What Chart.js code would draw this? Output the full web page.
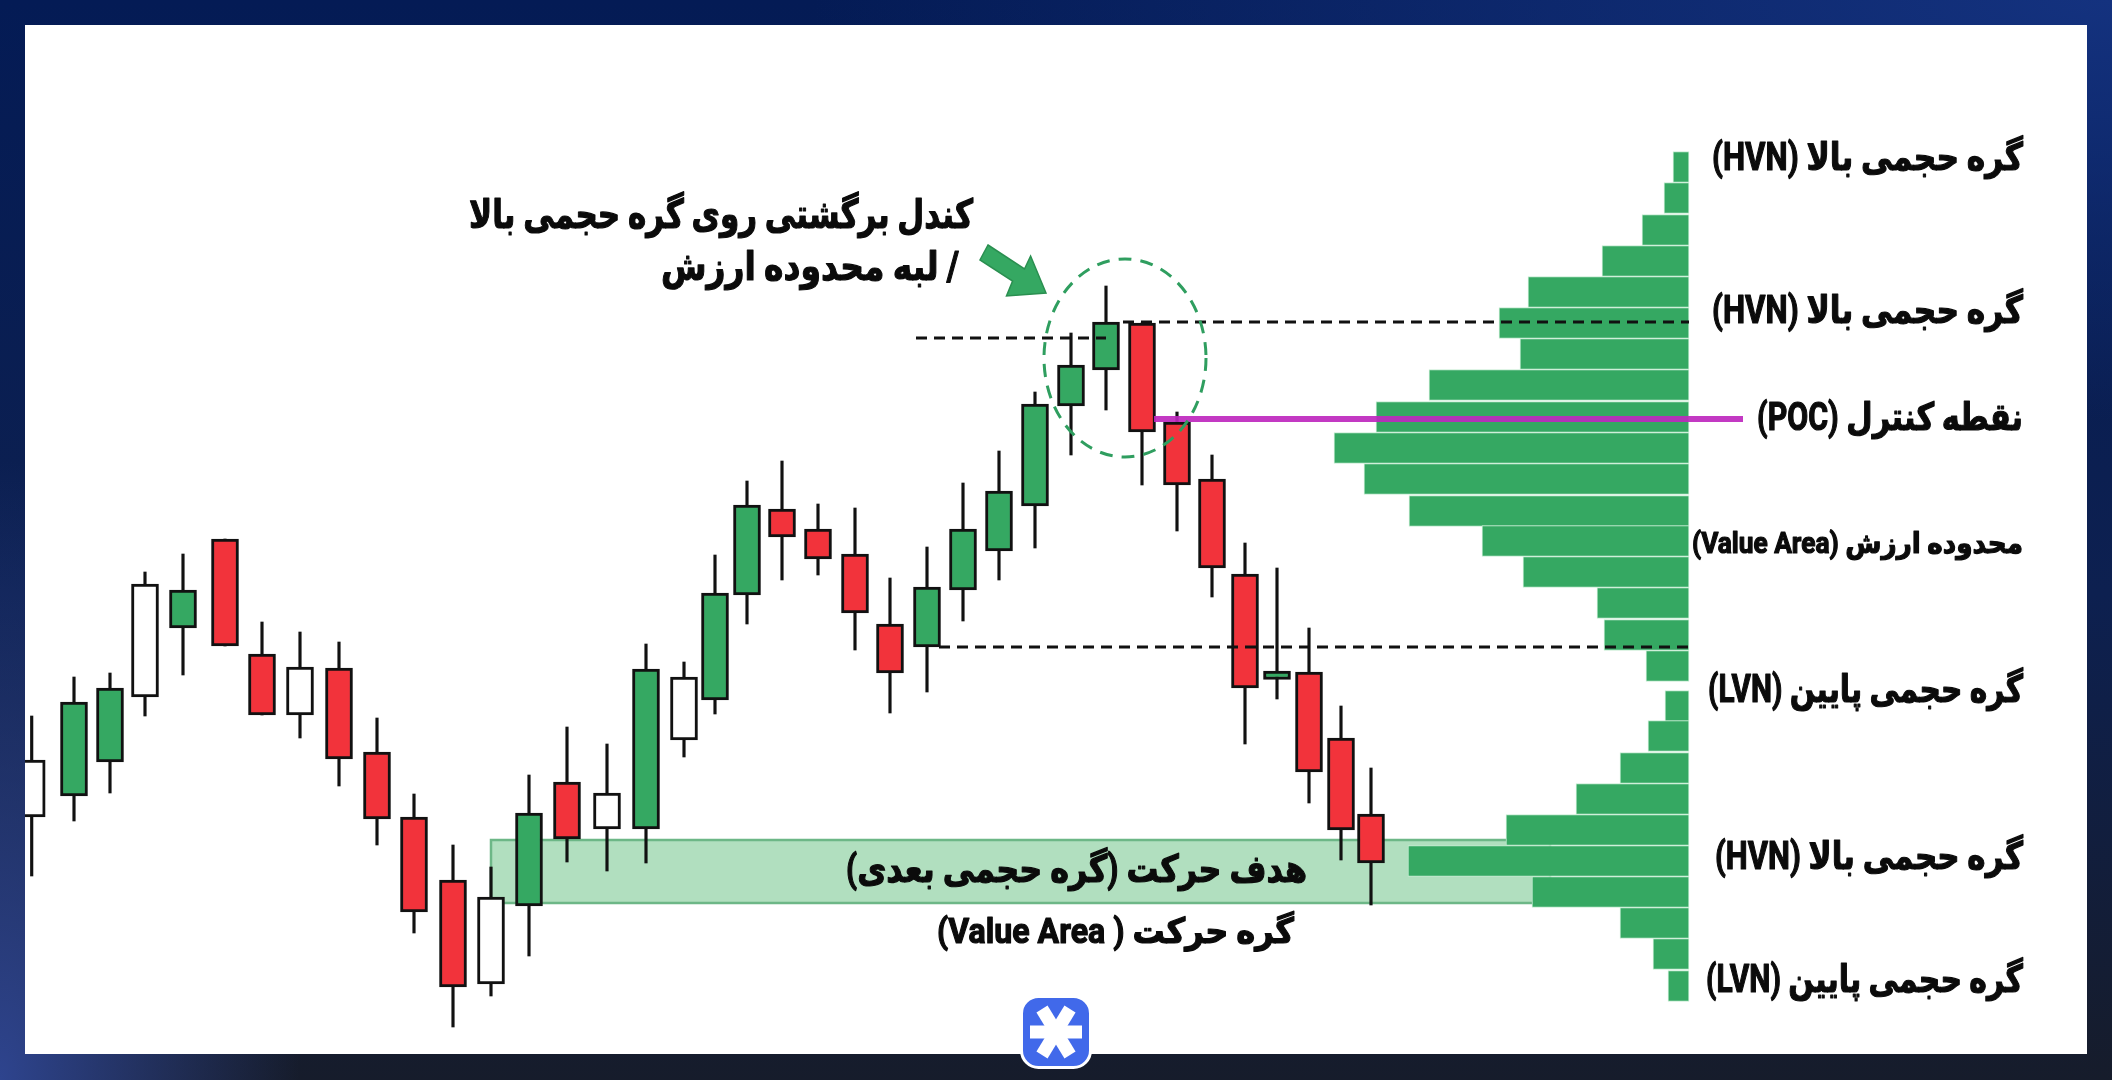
<!DOCTYPE html>
<html lang="fa">
<head>
<meta charset="utf-8">
<title>Volume profile</title>
<style>
html, body { margin: 0; padding: 0; width: 2112px; height: 1080px; overflow: hidden; }
body {
    position: relative;
    background:
        radial-gradient(ellipse 300px 620px at 0 100%, #2e448e 0%, rgba(46,68,142,0) 100%),
        radial-gradient(ellipse 1300px 420px at 100% 0, #14327f 0%, rgba(20,50,127,0) 100%),
        linear-gradient(to bottom, #041b55 0%, #0d2050 55%, #161c2b 100%);
}
#myChart { position: absolute; left: 25px; top: 25px; background: #fff; }
#logo { position: absolute; left: 1020px; top: 995px; }
</style>
</head>
<body>
<canvas id="myChart" width="2062" height="1029"></canvas>
<svg id="logo" width="72" height="74" viewBox="0 0 72 74">
    <rect x="1.5" y="1.5" width="69" height="71" rx="17" fill="#4169ea" stroke="#fff" stroke-width="3"/>
    <g stroke="#fff" stroke-width="13">
        <line x1="10" y1="37" x2="62" y2="37"/>
        <line x1="22" y1="14" x2="50" y2="60"/>
        <line x1="50" y1="14" x2="22" y2="60"/>
    </g>
</svg>
<script src="https://cdn.jsdelivr.net/npm/chart.js@4/dist/chart.umd.min.js"></script>
<script>
// Candles, left to right
var candleTimes = [3.17, 7.4, 11.0, 14.5, 18.3, 22.5, 26.2, 30.0, 33.9, 37.7, 41.4, 45.3, 49.1, 52.9, 56.7, 60.7, 64.6, 68.4, 71.5, 74.7, 78.2, 81.8, 85.5, 89.0, 92.7, 96.3, 99.9, 103.5, 107.1, 110.6, 114.2, 117.7, 121.2, 124.5, 127.7, 130.9, 134.1, 137.1];
var candleOpen = [26.3, 28.4, 31.8, 38.3, 45.2, 54.1, 42.6, 36.5, 41.2, 32.8, 26.3, 20.0, 9.6, 17.4, 29.8, 25.1, 25.1, 34.0, 38.0, 48.5, 57.1, 55.1, 52.6, 45.6, 43.3, 49.0, 52.9, 57.4, 67.4, 71.0, 75.7, 65.8, 60.1, 50.6, 40.05, 40.8, 34.2, 26.6];
var candleClose = [32.0, 37.8, 39.2, 49.6, 49.0, 43.4, 36.5, 41.3, 32.1, 26.1, 16.8, 9.3, 18.3, 26.7, 24.1, 28.7, 41.1, 40.3, 48.7, 57.5, 54.3, 52.1, 46.7, 40.7, 49.3, 55.1, 58.9, 67.6, 71.5, 75.8, 64.8, 59.5, 51.2, 39.2, 40.9, 30.8, 25.0, 21.7];
var candleHigh = [36.4, 40.3, 40.7, 50.8, 52.6, 54.1, 45.8, 44.8, 43.8, 36.2, 28.6, 23.5, 21.3, 30.5, 35.3, 33.6, 43.6, 41.8, 52.5, 59.9, 61.9, 57.6, 57.2, 50.2, 53.3, 59.7, 62.9, 68.8, 74.7, 79.4, 75.7, 66.8, 62.5, 53.7, 51.2, 45.2, 37.4, 31.2];
var candleLow = [20.4, 25.9, 28.7, 36.4, 40.5, 43.4, 36.5, 34.2, 29.4, 23.5, 14.7, 5.3, 8.4, 12.4, 21.8, 20.9, 21.7, 32.3, 36.6, 45.6, 50.0, 50.5, 43.0, 36.7, 38.8, 45.9, 50.0, 53.2, 62.5, 67.0, 59.5, 54.9, 48.3, 33.6, 38.1, 27.7, 22.0, 17.5];
var candleKind = ['neutral', 'bull', 'bull', 'neutral', 'bull', 'bear', 'bear', 'neutral', 'bear', 'bear', 'bear', 'bear', 'neutral', 'bull', 'bear', 'neutral', 'bull', 'neutral', 'bull', 'bull', 'bear', 'bear', 'bear', 'bear', 'bull', 'bull', 'bull', 'bull', 'bull', 'bull', 'bear', 'bear', 'bear', 'bear', 'bull', 'bear', 'bear', 'bear'];

// Volume profile, top to bottom
var profilePrices = [91.3, 88.2, 85.0, 81.9, 78.8, 75.7, 72.6, 69.5, 66.3, 63.2, 60.1, 56.9, 53.9, 50.8, 47.7, 44.5, 41.4, 37.4, 34.4, 31.2, 28.1, 25.0, 21.9, 18.8, 15.7, 12.6, 9.4];
var profileVolumes = [1.6, 2.5, 4.7, 8.7, 16.1, 19.0, 16.9, 26.0, 31.3, 35.5, 32.5, 28.0, 20.7, 16.6, 9.2, 8.5, 4.3, 2.4, 4.1, 6.9, 11.3, 18.3, 28.1, 15.7, 6.9, 3.6, 2.1];

// Levels
var upperDashPrice = 75.8;
var lowerDashPrice = 74.2;
var bottomDashPrice = 43.3;
var pocPrice = 66.1;
var zoneTop = 24.0;
var zoneBottom = 17.7;

// Texts
var profileLabels = ['گره حجمی بالا (HVN)', 'گره حجمی بالا (HVN)', 'نقطه کنترل (POC)', 'محدوده ارزش (Value Area)', 'گره حجمی پایین (LVN)', 'گره حجمی بالا (HVN)', 'گره حجمی پایین (LVN)'];
var noteLines = ['کندل برگشتی روی گره حجمی بالا', '/ لبه محدوده ارزش'];
var zoneLabels = ['هدف حرکت (گره حجمی بعدی)', 'گره حرکت ( Value Area)'];

var GREEN = '#35a862';
var RED = '#f2333b';
var INK = '#111';

function bodyColor(kind) {
    if (kind === 'bull') return GREEN;
    if (kind === 'bear') return RED;
    return '#fff';
}

function drawLabel(chart, text, x, y, size, maxWidth) {
    var ctx = chart.ctx;
    var px = chart.scales.x.getPixelForValue(x);
    var py = chart.scales.y.getPixelForValue(y);
    ctx.save();
    ctx.direction = 'rtl';
    ctx.textAlign = 'right';
    ctx.textBaseline = 'middle';
    ctx.fillStyle = '#0b0b0b';
    ctx.strokeStyle = '#0b0b0b';
    ctx.lineWidth = 1.2;
    ctx.lineJoin = 'round';
    ctx.font = 'bold ' + size + 'px Roboto, "DejaVu Sans"';
    ctx.fillText(text, px, py, maxWidth);
    // the reference lettering is heavier than any bold we have here
    ctx.strokeText(text, px, py, maxWidth);
    ctx.restore();
}

// Shaded target zone goes under everything
var zonePlugin = {
    id: 'zone',
    beforeDatasetsDraw: function (chart) {
        var ctx = chart.ctx;
        var left = chart.scales.x.getPixelForValue(49.1);
        var right = chart.scales.x.getPixelForValue(155);
        var top = chart.scales.y.getPixelForValue(zoneTop);
        var bottom = chart.scales.y.getPixelForValue(zoneBottom);
        ctx.save();
        ctx.fillStyle = '#b1dfbf';
        ctx.fillRect(left, top, right - left, bottom - top);
        ctx.strokeStyle = '#6db787';
        ctx.lineWidth = 2.5;
        ctx.strokeRect(left, top, right - left, bottom - top);
        ctx.restore();
    }
};

// Arrow, circle and all the writing on top
var notesPlugin = {
    id: 'notes',
    afterDatasetsDraw: function (chart) {
        var ctx = chart.ctx;
        var xs = chart.scales.x;
        var ys = chart.scales.y;

        ctx.save();
        ctx.beginPath();
        ctx.ellipse(xs.getPixelForValue(112.5), ys.getPixelForValue(72.2), 81, 99, 0, 0, Math.PI * 2);
        ctx.strokeStyle = '#2f9e5f';
        ctx.lineWidth = 3;
        ctx.setLineDash([13, 9]);
        ctx.stroke();
        ctx.setLineDash([]);

        var arrow = [[98.8, 83.5], [102.45, 81.1], [103.06, 82.4], [104.6, 78.7], [100.65, 78.4], [101.26, 79.9], [98.0, 82.0]];
        ctx.beginPath();
        arrow.forEach(function (p, i) {
            var px = xs.getPixelForValue(p[0]);
            var py = ys.getPixelForValue(p[1]);
            if (i === 0) ctx.moveTo(px, py); else ctx.lineTo(px, py);
        });
        ctx.closePath();
        ctx.fillStyle = GREEN;
        ctx.fill();
        ctx.strokeStyle = '#2a8f50';
        ctx.lineWidth = 1.5;
        ctx.stroke();
        ctx.restore();

        var labelY = [92.0, 76.7, 66.0, 53.4, 38.8, 22.1, 9.8];
        var labelW = [311, 311, 266, 331, 315, 308, 317];
        profileLabels.forEach(function (text, i) {
            drawLabel(chart, text, 202.3, labelY[i], i === 3 ? 29 : 38, labelW[i]);
        });
        drawLabel(chart, noteLines[0], 97.3, 86.2, 40, 504);
        drawLabel(chart, noteLines[1], 95.9, 81.0, 40, 298);
        drawLabel(chart, zoneLabels[0], 130.7, 20.8, 38, 461);
        drawLabel(chart, zoneLabels[1], 129.4, 14.6, 35, 357);
    }
};

var ctx = document.getElementById('myChart').getContext('2d');

var myChart = new Chart(ctx, {
    type: 'bar',
    data: {
        datasets: [
            {
                type: 'line', label: 'POC',
                data: [{ x: 115.4, y: pocPrice }, { x: 174.3, y: pocPrice }],
                borderColor: 'rgba(190,40,190,0.92)', borderWidth: 6, pointRadius: 0, order: 1
            },
            {
                type: 'line', label: 'Range high',
                data: [{ x: 112.3, y: upperDashPrice }, { x: 168.9, y: upperDashPrice }],
                borderColor: INK, borderWidth: 3, borderDash: [11, 7], pointRadius: 0, order: 2
            },
            {
                type: 'line', label: 'Swing high',
                data: [{ x: 91.6, y: lowerDashPrice }, { x: 110.6, y: lowerDashPrice }],
                borderColor: INK, borderWidth: 3, borderDash: [11, 7], pointRadius: 0, order: 2
            },
            {
                type: 'line', label: 'Range low',
                data: [{ x: 93.9, y: bottomDashPrice }, { x: 168.9, y: bottomDashPrice }],
                borderColor: INK, borderWidth: 3, borderDash: [11, 7], pointRadius: 0, order: 2
            },
            {
                label: 'Body',
                data: candleTimes.map(function (t, i) { return { x: t, y: [candleOpen[i], candleClose[i]] }; }),
                backgroundColor: candleKind.map(bodyColor),
                borderColor: INK, borderWidth: 3, borderSkipped: false,
                barThickness: 27, grouped: false, order: 3
            },
            {
                label: 'Wick',
                data: candleTimes.map(function (t, i) { return { x: t, y: [candleLow[i], candleHigh[i]] }; }),
                backgroundColor: INK, barThickness: 2.5, grouped: false, order: 4
            },
            {
                label: 'Volume', indexAxis: 'y', xAxisID: 'xVol', yAxisID: 'yVol',
                data: profilePrices.map(function (p, i) { return { x: profileVolumes[i], y: p }; }),
                backgroundColor: GREEN, borderColor: '#c4ecd2', borderWidth: 1, borderSkipped: false,
                barThickness: 31, grouped: false, order: 5
            }
        ]
    },
    options: {
        responsive: false,
        animation: false,
        layout: { padding: 0 },
        plugins: { legend: { display: false }, tooltip: { enabled: false } },
        scales: {
            // bar charts turn offset on by default, it would squeeze these ranges
            x: { type: 'linear', min: 2.5, max: 208.7, offset: false, display: false },
            y: { type: 'linear', min: 2.6, max: 105.5, offset: false, display: false },
            // volume grows leftwards from the right edge of the profile
            xVol: { type: 'linear', axis: 'x', reverse: true, min: -39.8, max: 166.4, offset: false, display: false },
            yVol: { type: 'linear', axis: 'y', min: 2.6, max: 105.5, offset: false, display: false }
        }
    },
    plugins: [zonePlugin, notesPlugin]
});
</script>
</body>
</html>
